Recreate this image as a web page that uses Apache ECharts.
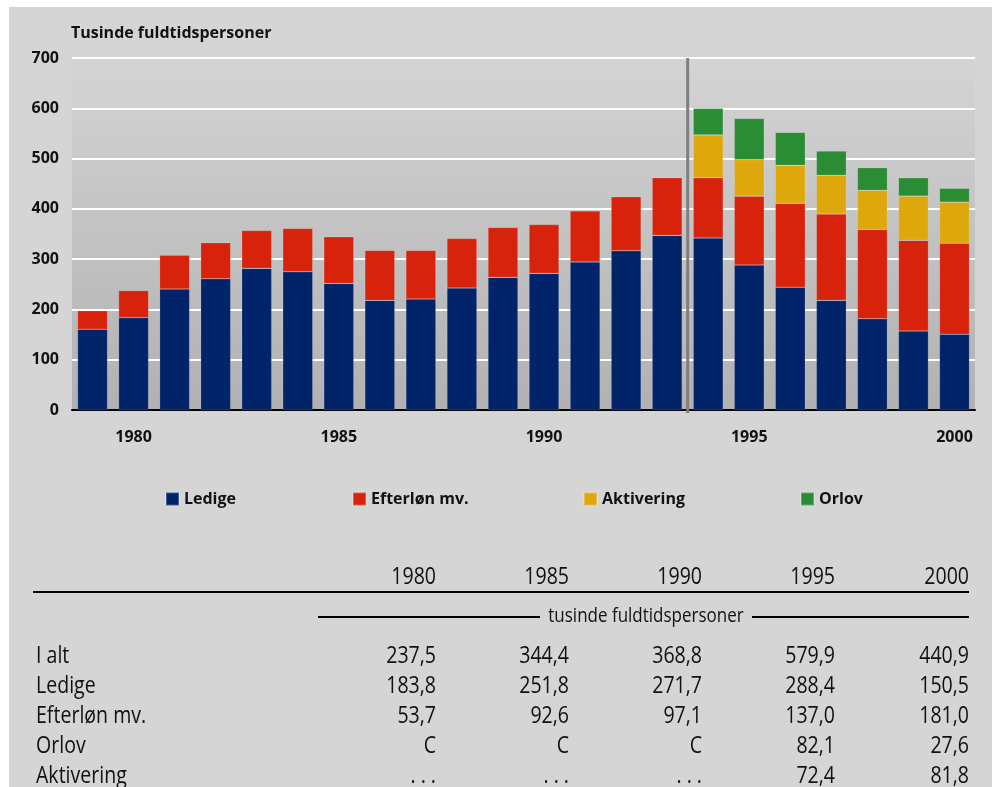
<!DOCTYPE html>
<html><head><meta charset="utf-8">
<script src="https://cdn.jsdelivr.net/npm/echarts@6/dist/echarts.min.js"></script>
<style>html,body{margin:0;padding:0;background:#fff}#c{width:999px;height:787px}</style>
</head><body><div id="c"></div>
<script>
// ---- data ----
const years = ['1979','1980','1981','1982','1983','1984','1985','1986','1987','1988','1989',
  '1990','1991','1992','1993','1994','1995','1996','1997','1998','1999','2000'];
const ledige    = [160.5,183.8,240.6,261.0,281.7,275.0,251.8,218.0,220.7,242.6,263.8,
  271.7,294.3,316.7,347.3,342.0,288.4,244.0,218.0,181.5,157.0,150.5];
const efterlon  = [37.0,53.7,67.0,71.7,75.3,86.0,92.6,99.5,96.8,98.4,99.2,
  97.1,101.7,107.3,114.7,120.0,137.0,167.0,171.7,177.5,180.4,181.0];
const aktivering = [null,null,null,null,null,null,null,null,null,null,null,
  null,null,null,null,85.0,72.4,75.5,77.0,77.8,88.0,81.8];
const orlov     = [null,null,null,null,null,null,null,null,null,null,null,
  null,null,null,null,53.0,82.1,65.5,48.4,45.0,36.5,27.6];
const seriesNames = ['Ledige','Efterløn mv.','Aktivering','Orlov'];
const yMin = 0, yMax = 700, yStep = 100;
const dividerBetween = ['1993','1994'];

const tableYears = ['1980','1985','1990','1995','2000'];
const tableUnit = 'tusinde fuldtidspersoner';
const tableRowLabels = ['I alt','Ledige','Efterløn mv.','Orlov','Aktivering'];
const tableIAlt       = ['237,5','344,4','368,8','579,9','440,9'];
const tableLedige     = ['183,8','251,8','271,7','288,4','150,5'];
const tableEfterlon   = ['53,7','92,6','97,1','137,0','181,0'];
const tableOrlov      = ['C','C','C','82,1','27,6'];
const tableAktivering = ['. . .','. . .','. . .','72,4','81,8'];
const tableRows = [tableIAlt, tableLedige, tableEfterlon, tableOrlov, tableAktivering];

// ---- styles ----
const colors = ['#00236a','#d7230c','#dea70b','#2a8c33'];
const FONT = "'Open Sans', sans-serif";
const chart = echarts.init(document.getElementById('c'), null, {renderer:'canvas'});

const boldText = {fontFamily: FONT, fontWeight: 'bold', fontSize: 16, color: '#111'};
const seriesData = [ledige, efterlon, aktivering, orlov];
const legendLeft = [160, 347, 578, 795];

const option = {
  animation: false,
  backgroundColor: '#d5d5d5',
  title: {
    text: 'Tusinde fuldtidspersoner', left: 66, top: 20,
    textStyle: {fontFamily: FONT, fontWeight: 'bold', fontSize: 16, color: '#111'}
  },
  legend: seriesNames.map((n, i) => ({
    data: [n], left: legendLeft[i], top: 486, icon: 'rect',
    itemWidth: 13, itemHeight: 13, selectedMode: false,
    textStyle: Object.assign({}, boldText)
  })),
  grid: {
    left: 72, right: 24, top: 58, bottom: 377, show: true, borderWidth: 0,
    backgroundColor: new echarts.graphic.LinearGradient(0, 0, 0, 1, [
      {offset: 0, color: '#d4d4d4'}, {offset: 1, color: '#b1b1b1'}])
  },
  xAxis: {
    type: 'category', data: years, boundaryGap: true,
    axisLine: {lineStyle: {color: '#000', width: 2}},
    axisTick: {show: false},
    axisLabel: Object.assign({margin: 19, interval: (i, v) => Number(v) % 5 === 0}, boldText)
  },
  yAxis: {
    type: 'value', min: yMin, max: yMax, interval: yStep,
    axisLine: {show: false}, axisTick: {show: false},
    splitLine: {lineStyle: {color: '#fff', width: 2}},
    axisLabel: Object.assign({margin: 13}, boldText)
  },
  series: seriesNames.map((n, i) => ({
    name: n, type: 'bar', stack: 'total', data: seriesData[i], barWidth: 30,
    itemStyle: {color: colors[i], borderColor: 'rgba(255,255,255,0.25)', borderWidth: 0.6}
  })),
  graphic: []
};
chart.setOption(option);

// ---- divider, page border and table ----
const xa = chart.convertToPixel({xAxisIndex: 0}, dividerBetween[0]);
const xb = chart.convertToPixel({xAxisIndex: 0}, dividerBetween[1]);
const yTop = chart.convertToPixel({yAxisIndex: 0}, yMax);
const yBot = chart.convertToPixel({yAxisIndex: 0}, yMin);
const divX = (xa + xb) / 2;

const g = [];
g.push({type:'line', z: 50, shape:{x1:divX, y1:yTop, x2:divX, y2:yBot+3},
  style:{stroke:'#7f7f7f', lineWidth:3}});
// white page margins
g.push({type:'rect', z: 100, shape:{x:0,y:0,width:999,height:7}, style:{fill:'#fff'}});
g.push({type:'rect', z: 100, shape:{x:0,y:0,width:9,height:787}, style:{fill:'#fff'}});
g.push({type:'rect', z: 100, shape:{x:992,y:0,width:7,height:787}, style:{fill:'#fff'}});

const colX = [436, 569, 702, 835, 969];
const SX = 0.85;
const tfont = (size) => ({fontFamily: FONT, fontSize: size, fontWeight: 'normal'});
tableYears.forEach((yr, j) => {
  g.push({type:'text', x: colX[j], y: 577, scaleX: SX,
    style: Object.assign({text: yr, fill:'#111', textAlign:'right', textVerticalAlign:'middle'}, tfont(23))});
});
g.push({type:'line', shape:{x1:33, y1:592, x2:969, y2:592}, style:{stroke:'#000', lineWidth:2}});
g.push({type:'line', shape:{x1:318, y1:617, x2:540, y2:617}, style:{stroke:'#000', lineWidth:2}});
g.push({type:'line', shape:{x1:752, y1:617, x2:969, y2:617}, style:{stroke:'#000', lineWidth:2}});
g.push({type:'text', x: 646, y: 616, scaleX: SX,
  style: Object.assign({text: tableUnit, fill:'#111', textAlign:'center', textVerticalAlign:'middle'}, tfont(20))});
const rowY = [656, 686, 716, 746, 776];
tableRowLabels.forEach((lab, r) => {
  g.push({type:'text', x: 36, y: rowY[r], scaleX: SX,
    style: Object.assign({text: lab, fill:'#111', textAlign:'left', textVerticalAlign:'middle'}, tfont(23))});
  tableRows[r].forEach((v, j) => {
    g.push({type:'text', x: colX[j], y: rowY[r], scaleX: SX,
      style: Object.assign({text: v, fill:'#111', textAlign:'right', textVerticalAlign:'middle'}, tfont(23))});
  });
});
chart.setOption({graphic: g});
</script>
</body></html>
